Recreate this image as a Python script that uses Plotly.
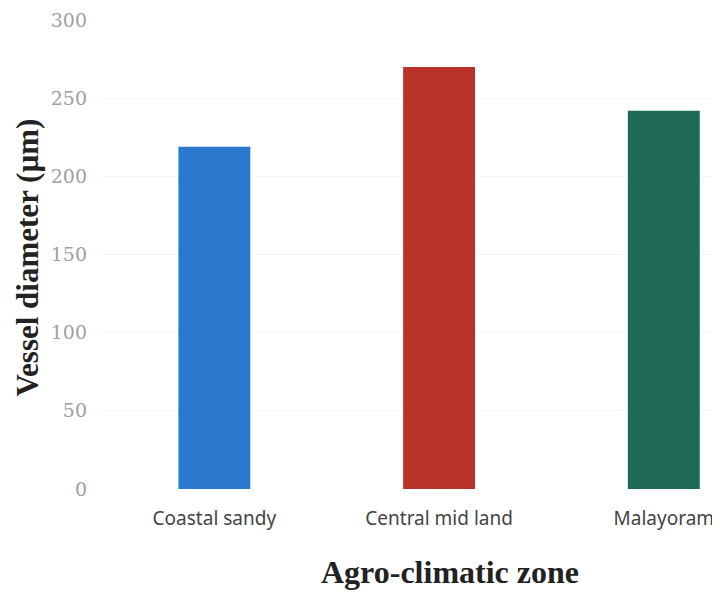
import plotly.graph_objects as go

zones = ["Coastal sandy", "Central mid land", "Malayoram"]
vessel_diameter = [219, 270, 242]
bar_colors = ["#2B78CF", "#B8322A", "#1F6A55"]
y_ticks = [0, 50, 100, 150, 200, 250, 300]

fig = go.Figure()
fig.add_trace(go.Bar(
    x=zones, y=vessel_diameter,
    marker=dict(color=bar_colors, line=dict(width=0)),
    width=0.32,
))

fig.update_layout(
    width=712, height=585,
    margin=dict(l=94, r=0, t=12, b=104),
    paper_bgcolor="white", plot_bgcolor="white",
    showlegend=False,
    xaxis=dict(
        range=[-0.5, 2.25], automargin=False,
        showgrid=False, showline=False, zeroline=False,
        ticks="", ticklabelstandoff=16,
        tickfont=dict(family="Noto Sans", size=19, color="#444444"),
    ),
    yaxis=dict(
        range=[0, 300], tickvals=y_ticks, automargin=False,
        showgrid=True, gridcolor="#f6f6f6", showline=False, zeroline=False,
        ticks="", ticklabelstandoff=14,
        tickfont=dict(family="DejaVu Serif", size=19, color="#a0a0a0"),
    ),
    annotations=[
        dict(text="<b>Agro-climatic zone</b>", xref="paper", yref="paper",
             x=0.5631, y=-0.177, xanchor="center", yanchor="middle",
             showarrow=False,
             font=dict(family="Liberation Serif", size=32, color="#222222")),
        dict(text="<b>Vessel diameter (µm)</b>", xref="paper", yref="paper",
             x=-0.119, y=0.4947, xanchor="center", yanchor="middle",
             textangle=-90, showarrow=False,
             font=dict(family="Liberation Serif", size=31, color="#222222")),
    ],
)

fig.write_html("out.html")
